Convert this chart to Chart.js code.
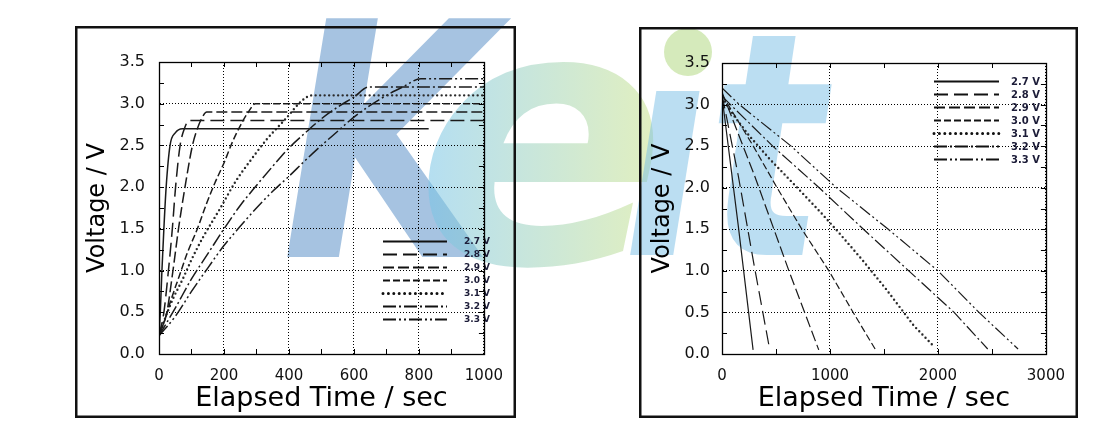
<!DOCTYPE html>
<html>
<head>
<meta charset="utf-8">
<script src="https://cdn.jsdelivr.net/npm/chart.js@4.4.0/dist/chart.umd.min.js"></script>
<style>
  body { margin:0; background:#fff; width:1120px; height:432px; position:relative; overflow:hidden; }
  .panel { position:absolute; z-index:1; }
  #mark { position:absolute; left:0; top:0; z-index:0; }
  #chargeBox { left:75px; top:26px; width:441px; height:392px; }
  #dischargeBox { left:639px; top:27px; width:439px; height:391px; }
  canvas { display:block; }
</style>
</head>
<body>
<canvas id="mark" width="1120" height="432"></canvas>
<div class="panel" id="chargeBox"><canvas id="chargeChart" width="441" height="392"></canvas></div>
<div class="panel" id="dischargeBox"><canvas id="dischargeChart" width="439" height="391"></canvas></div>
<script>
// series names (same for both panels)
const seriesLabels = ['2.7 V', '2.8 V', '2.9 V', '3.0 V', '3.1 V', '3.2 V', '3.3 V'];

// charging curves, left panel (time in sec, voltage in V)
const chargeTime27 = [0, 4, 9, 15, 22, 34, 50, 72, 830];
const chargeVolt27 = [0.22, 0.5, 1.0, 1.5, 2.0, 2.5, 2.65, 2.7, 2.7];
const chargeTime28 = [0, 15, 29, 41, 51, 65, 80, 92, 1000];
const chargeVolt28 = [0.22, 0.5, 1.0, 1.5, 2.0, 2.5, 2.72, 2.8, 2.8];
const chargeTime29 = [0, 24, 43, 60, 80, 103, 120, 135, 147, 1000];
const chargeVolt29 = [0.22, 0.5, 1.0, 1.5, 2.0, 2.5, 2.72, 2.85, 2.9, 2.9];
const chargeTime30 = [0, 17, 37, 62, 87, 117, 147, 172, 200, 227, 252, 275, 297, 1000];
const chargeVolt30 = [0.22, 0.4, 0.65, 0.93, 1.21, 1.49, 1.81, 2.05, 2.29, 2.55, 2.75, 2.9, 3.0, 3.0];
const chargeTime31 = [0, 17, 44, 72, 100, 137, 186, 236, 276, 331, 390, 441, 470, 1000];
const chargeVolt31 = [0.22, 0.41, 0.67, 0.89, 1.13, 1.41, 1.73, 2.07, 2.29, 2.57, 2.82, 3.04, 3.1, 3.1];
const chargeTime32 = [0, 50, 100, 150, 200, 250, 300, 350, 400, 450, 500, 550, 600, 646, 1000];
const chargeVolt32 = [0.22, 0.55, 0.9, 1.2, 1.5, 1.78, 2.02, 2.25, 2.47, 2.65, 2.82, 2.96, 3.08, 3.2, 3.2];
const chargeTime33 = [0, 50, 100, 150, 200, 250, 300, 350, 400, 450, 500, 550, 600, 650, 700, 750, 806, 1000];
const chargeVolt33 = [0.22, 0.45, 0.75, 1.03, 1.3, 1.53, 1.75, 1.95, 2.13, 2.32, 2.5, 2.67, 2.84, 2.98, 3.1, 3.2, 3.3, 3.3];

// discharging curves, right panel
const dischargeTime27 = [0, 150, 288];
const dischargeVolt27 = [3.1, 1.55, 0.05];
const dischargeTime28 = [0, 150, 300, 438];
const dischargeVolt28 = [3.12, 2.15, 1.05, 0.08];
const dischargeTime29 = [0, 300, 620, 896];
const dischargeVolt29 = [3.15, 2.15, 1.0, 0.05];
const dischargeTime30 = [0, 290, 510, 740, 990, 1215, 1418];
const dischargeVolt30 = [3.12, 2.5, 2.0, 1.5, 1.0, 0.5, 0.06];
const dischargeTime31 = [0, 114, 249, 438, 698, 923, 1082, 1307, 1514, 1777, 1963];
const dischargeVolt31 = [3.08, 2.86, 2.63, 2.35, 2.0, 1.69, 1.46, 1.12, 0.79, 0.34, 0.09];
const dischargeTime32 = [0, 470, 900, 1310, 1730, 2150, 2461];
const dischargeVolt32 = [3.1, 2.5, 2.0, 1.5, 1.0, 0.5, 0.06];
const dischargeTime33 = [0, 160, 640, 1060, 1540, 2000, 2380, 2742];
const dischargeVolt33 = [3.2, 3.0, 2.5, 2.0, 1.5, 1.0, 0.5, 0.06];

// axis ticks
const chargeTimeTicks = [0, 200, 400, 600, 800, 1000];
const dischargeTimeTicks = [0, 1000, 2000, 3000];
const voltTicks = [0.0, 0.5, 1.0, 1.5, 2.0, 2.5, 3.0, 3.5];

// line patterns, one per series
const dashes = [[], [14, 6], [11, 4], [7, 3], [0, 4.5], [13, 3, 2, 3], [13, 3, 2, 3, 2, 3]];

Chart.defaults.font.family = '"DejaVu Sans", Verdana, sans-serif';
Chart.defaults.color = '#111';

// faint "Keit" watermark that lies over the scan
function drawMark() {
    const ctx = document.getElementById('mark').getContext('2d');
    function fitGlyph(ch, x0, y0, x1, y1, fill) {
        ctx.font = 'italic bold 200px "DejaVu Sans"';
        const m = ctx.measureText(ch);
        const w = m.actualBoundingBoxLeft + m.actualBoundingBoxRight;
        const h = m.actualBoundingBoxAscent + m.actualBoundingBoxDescent;
        ctx.save();
        ctx.translate(x0, y0);
        ctx.scale((x1 - x0) / w, (y1 - y0) / h);
        ctx.fillStyle = typeof fill == 'function' ? fill(w) : fill;
        ctx.fillText(ch, m.actualBoundingBoxLeft, m.actualBoundingBoxAscent);
        ctx.restore();
    }
    fitGlyph('K', 287, 18, 512, 257, 'rgba(92,146,200,0.55)');
    fitGlyph('e', 428, 62, 655, 268, w => {
        const g = ctx.createLinearGradient(0, 0, w, 0);
        g.addColorStop(0, 'rgba(120,196,230,0.55)');
        g.addColorStop(1, 'rgba(200,226,140,0.55)');
        return g;
    });
    fitGlyph('\u0131', 630, 90, 700, 255, 'rgba(120,190,230,0.5)');
    ctx.fillStyle = 'rgba(190,222,150,0.65)';
    ctx.beginPath();
    ctx.arc(688, 52, 24, 0, Math.PI * 2);
    ctx.fill();
    fitGlyph('t', 718, 35, 832, 255, 'rgba(120,190,230,0.5)');
}
drawMark();

function toPoints(t, v) {
    return t.map((x, i) => ({x: x, y: v[i]}));
}

function makeDatasets(times, volts, width, smooth) {
    return seriesLabels.map((label, i) => ({
        label: label,
        data: toPoints(times[i], volts[i]),
        borderColor: i == 4 ? '#2a2a2a' : '#1a1a1a',
        borderWidth: i == 4 ? 2.4 : width,
        borderDash: dashes[i],
        borderCapStyle: i == 4 ? 'round' : 'butt',
        pointRadius: 0,
        fill: false,
        cubicInterpolationMode: smooth ? 'monotone' : 'default',
        tension: 0
    }));
}

function isMajor(value, list) {
    return list.some(m => Math.abs(m - value) < 1e-6);
}

// box round the plot, inward ticks and the outer frame
const frameTicks = {
    id: 'frameTicks',
    afterDraw(chart) {
        const {ctx, chartArea: a, scales} = chart;
        ctx.save();
        ctx.strokeStyle = '#000';
        ctx.lineWidth = 1;
        ctx.beginPath();
        scales.x.ticks.forEach(t => {
            const px = Math.round(scales.x.getPixelForValue(t.value)) + 0.5;
            ctx.moveTo(px, a.bottom); ctx.lineTo(px, a.bottom - 5);
            ctx.moveTo(px, a.top); ctx.lineTo(px, a.top + 5);
        });
        scales.y.ticks.forEach(t => {
            const py = Math.round(scales.y.getPixelForValue(t.value)) + 0.5;
            ctx.moveTo(a.left, py); ctx.lineTo(a.left + 5, py);
            ctx.moveTo(a.right, py); ctx.lineTo(a.right - 5, py);
        });
        ctx.stroke();
        ctx.lineWidth = 1.3;
        ctx.strokeRect(Math.round(a.left) + 0.5, Math.round(a.top) + 0.5,
            Math.round(a.right - a.left), Math.round(a.bottom - a.top));
        ctx.lineWidth = 2.5;
        ctx.strokeStyle = '#111';
        ctx.strokeRect(1.25, 1.25, chart.width - 2.5, chart.height - 2.5);
        ctx.restore();
    }
};

// small line key drawn inside the plot
const lineKey = {
    id: 'lineKey',
    afterDatasetsDraw(chart, args, opts) {
        const {ctx, chartArea: a} = chart;
        ctx.save();
        chart.data.datasets.forEach((ds, i) => {
            const y = Math.round(a.top + opts.top + i * opts.rowGap) + 0.5;
            const x0 = a.left + opts.left;
            ctx.strokeStyle = '#111';
            ctx.lineWidth = i == 4 ? 3 : 2;
            ctx.lineCap = i == 4 ? 'round' : 'butt';
            ctx.setLineDash(i == 4 ? [0, 5.4] : ds.borderDash);
            ctx.beginPath();
            ctx.moveTo(x0, y);
            ctx.lineTo(x0 + opts.length, y);
            ctx.stroke();
            ctx.setLineDash([]);
            ctx.fillStyle = '#1c1c38';
            ctx.font = 'bold ' + opts.fontSize + 'px "DejaVu Sans"';
            ctx.textBaseline = 'middle';
            ctx.fillText(ds.label, x0 + opts.length + opts.gap, y + 0.5);
        });
        ctx.restore();
    }
};

function makeChart(canvasId, datasets, xMax, xStep, xMajor, axisBox, labelPad, titlePadY, key) {
    return new Chart(document.getElementById(canvasId), {
        type: 'line',
        data: {datasets: datasets},
        plugins: [frameTicks, lineKey],
        options: {
            responsive: false,
            animation: false,
            events: [],
            layout: {padding: {left: 0, top: axisBox.top, right: axisBox.right, bottom: 0}},
            plugins: {
                legend: {display: false},
                tooltip: {enabled: false},
                lineKey: key
            },
            scales: {
                x: {
                    type: 'linear',
                    min: 0,
                    max: xMax,
                    afterFit: s => { s.height = axisBox.bottom; },
                    ticks: {
                        stepSize: xStep,
                        maxTicksLimit: 40,
                        autoSkip: false,
                        maxRotation: 0,
                        padding: 13,
                        color: '#111',
                        font: {size: 15},
                        callback: v => isMajor(v, xMajor) ? String(v) : ''
                    },
                    grid: {
                        drawTicks: false,
                        lineWidth: 1,
                        color: c => (c.tick && isMajor(c.tick.value, xMajor)) ? '#000' : 'rgba(0,0,0,0)'
                    },
                    border: {display: true, color: '#000', width: 1, dash: [1, 2]},
                    title: {
                        display: true,
                        text: 'Elapsed Time / sec',
                        color: '#000',
                        font: {size: 27},
                        padding: {top: 0, bottom: 3}
                    }
                },
                y: {
                    type: 'linear',
                    min: 0,
                    max: 3.5,
                    afterFit: s => { s.width = axisBox.left; },
                    ticks: {
                        stepSize: 0.25,
                        maxTicksLimit: 40,
                        autoSkip: false,
                        padding: labelPad,
                        color: '#111',
                        font: {size: 16},
                        callback: v => isMajor(v, voltTicks) ? v.toFixed(1) : ''
                    },
                    grid: {
                        drawTicks: false,
                        lineWidth: 1,
                        color: c => (c.tick && isMajor(c.tick.value, voltTicks)) ? '#000' : 'rgba(0,0,0,0)'
                    },
                    border: {display: true, color: '#000', width: 1, dash: [1, 2]},
                    title: {
                        display: true,
                        text: 'Voltage / V',
                        color: '#000',
                        font: {size: 24},
                        padding: {top: titlePadY, bottom: 0}
                    }
                }
            }
        }
    });
}

const chargeSets = makeDatasets(
    [chargeTime27, chargeTime28, chargeTime29, chargeTime30, chargeTime31, chargeTime32, chargeTime33],
    [chargeVolt27, chargeVolt28, chargeVolt29, chargeVolt30, chargeVolt31, chargeVolt32, chargeVolt33],
    1.5, true);

const dischargeSets = makeDatasets(
    [dischargeTime27, dischargeTime28, dischargeTime29, dischargeTime30, dischargeTime31, dischargeTime32, dischargeTime33],
    [dischargeVolt27, dischargeVolt28, dischargeVolt29, dischargeVolt30, dischargeVolt31, dischargeVolt32, dischargeVolt33],
    1.2, false);

makeChart('chargeChart', chargeSets, 1000, 100, chargeTimeTicks,
    {left: 84, top: 36, right: 23, bottom: 64}, 14, 8,
    {left: 224, top: 179, rowGap: 12.95, length: 64, gap: 17, fontSize: 9});

makeChart('dischargeChart', dischargeSets, 3000, 500, dischargeTimeTicks,
    {left: 83, top: 36, right: 22, bottom: 64}, 12, 9,
    {left: 212, top: 18, rowGap: 13, length: 65, gap: 12, fontSize: 10});
</script>
</body>
</html>
